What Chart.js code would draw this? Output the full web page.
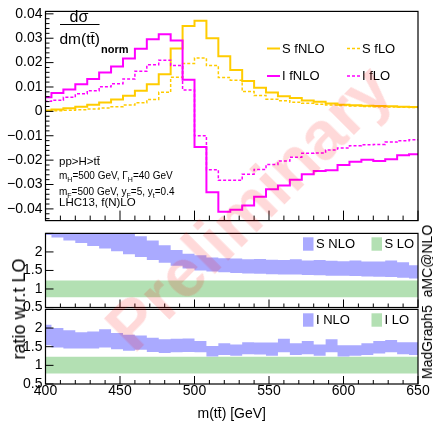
<!DOCTYPE html>
<html>
<head>
<meta charset="utf-8">
<title>m(tt̄) signal and interference</title>
<script src="https://cdn.jsdelivr.net/npm/chart.js@4.4.1/dist/chart.umd.min.js"></script>
<style>
  html, body { margin: 0; padding: 0; background: #fff; }
  #plot { position: relative; width: 433px; height: 424px; overflow: hidden; font-family: "Liberation Sans", Arial, sans-serif; color: #000; }
  #plot canvas { position: absolute; left: 0; }
  .rot { position: absolute; white-space: nowrap; line-height: 1; transform: translate(-50%, -50%) rotate(-90deg); }
  #ratioTitle { left: 19px; top: 309px; font-size: 18px; }
  #generator { left: 427px; top: 302px; font-size: 14px; }
  #prelim {
    position: absolute; left: 248px; top: 207px;
    transform: translate(-50%, -50%) rotate(-45deg);
    font-size: 68px; font-weight: bold; line-height: 1; white-space: nowrap;
    color: rgba(255, 0, 0, 0.15); pointer-events: none;
  }
</style>
</head>
<body>
<div id="plot">
  <canvas id="mainCanvas" width="433" height="232" style="top:0"></canvas>
  <canvas id="sCanvas" width="433" height="100" style="top:222px"></canvas>
  <canvas id="iCanvas" width="433" height="126" style="top:298px"></canvas>
  <div id="ratioTitle" class="rot">ratio w.r.t LO</div>
  <div id="generator" class="rot">MadGraph5_aMC@NLO</div>
  <div id="prelim">Preliminary</div>
</div>
<script>
const FONT = '"Liberation Sans", Arial, sans-serif';
Chart.defaults.font.family = FONT;
Chart.defaults.color = "#000";

/* ===========================
   DATA (8 GeV bins)
=========================== */

const binCenters = [400, 408, 416, 424, 432, 440, 448, 456, 464, 472, 480, 488, 496, 504, 512, 520,
                    528, 536, 544, 552, 560, 568, 576, 584, 592, 600, 608, 616, 624, 632, 640, 648];
const binWidth = 8;

// normalised distributions
const sFNLO = [0.0004, 0.0008, 0.0013, 0.0019, 0.0027, 0.0036, 0.0049, 0.0064, 0.0085, 0.0111, 0.0152, 0.0258,
               0.0350, 0.0372, 0.0300, 0.0226, 0.0170, 0.0125, 0.0097, 0.0077, 0.0062, 0.0055, 0.0045, 0.0039,
               0.0032, 0.0027, 0.0025, 0.0023, 0.0022, 0.0021, 0.0019, 0.0018];
const sFLO  = [0.0002, 0.0003, 0.0005, 0.0007, 0.0010, 0.0014, 0.0019, 0.0026, 0.0035, 0.0049, 0.0078, 0.0140,
               0.0196, 0.0219, 0.0188, 0.0139, 0.0128, 0.0081, 0.0065, 0.0050, 0.0044, 0.0037, 0.0033, 0.0029,
               0.0026, 0.0024, 0.0022, 0.0020, 0.0019, 0.0018, 0.0017, 0.0016];
const iFNLO = [0.0058, 0.0075, 0.0090, 0.0111, 0.0133, 0.0159, 0.0184, 0.0217, 0.0257, 0.0296, 0.0316, 0.0291,
               0.0130, -0.0146, -0.0332, -0.0412, -0.0403, -0.0386, -0.0350, -0.0319, -0.0304, -0.0280, -0.0258, -0.0245,
               -0.0241, -0.0220, -0.0207, -0.0198, -0.0204, -0.0196, -0.0180, -0.0176];
const iFLO  = [0.0041, 0.0046, 0.0058, 0.0072, 0.0085, 0.0101, 0.0113, 0.0133, 0.0165, 0.0191, 0.0210, 0.0188,
               0.0088, -0.0100, -0.0239, -0.0283, -0.0283, -0.0258, -0.0238, -0.0218, -0.0204, -0.0188, -0.0172, -0.0171,
               -0.0158, -0.0150, -0.0141, -0.0137, -0.0136, -0.0126, -0.0120, -0.0116];

// NLO / LO ratio bands
const sNloLow  = [2.46, 2.39, 2.31, 2.24, 2.16, 2.09, 2.02, 1.94, 1.86, 1.78, 1.71, 1.63, 1.55, 1.50, 1.47, 1.45,
                  1.43, 1.42, 1.41, 1.40, 1.39, 1.39, 1.38, 1.37, 1.36, 1.36, 1.35, 1.34, 1.33, 1.32, 1.30, 1.28];
const sNloHigh = [2.95, 2.90, 2.84, 2.77, 2.70, 2.63, 2.56, 2.49, 2.42, 2.31, 2.18, 2.05, 1.95, 1.91, 1.85, 1.83,
                  1.82, 1.80, 1.81, 1.79, 1.78, 1.80, 1.77, 1.78, 1.76, 1.75, 1.77, 1.74, 1.74, 1.77, 1.72, 1.64];
const iNloLow  = [1.54, 1.48, 1.45, 1.45, 1.45, 1.48, 1.43, 1.39, 1.42, 1.36, 1.33, 1.35, 1.36, 1.35, 1.24, 1.28,
                  1.26, 1.30, 1.29, 1.26, 1.35, 1.28, 1.30, 1.26, 1.35, 1.24, 1.26, 1.28, 1.32, 1.35, 1.30, 1.28];
const iNloHigh = [2.09, 2.00, 1.94, 1.89, 1.91, 1.97, 1.87, 1.82, 1.80, 1.74, 1.70, 1.71, 1.72, 1.65, 1.52, 1.59,
                  1.56, 1.62, 1.61, 1.61, 1.71, 1.59, 1.65, 1.56, 1.70, 1.54, 1.54, 1.59, 1.65, 1.68, 1.62, 1.62];
const loBand = [0.78, 1.23];

const xTicks = [400, 450, 500, 550, 600, 650];

const YELLOW = "#FFCC00";
const MAGENTA = "#FF00FF";
const BLUE = "#AAAAFF";
const GREEN = "#B3E0B3";

/* ===========================
   HELPERS
=========================== */

// left bin edges plus the closing right edge, drawn as a step line
function stepPoints(values) {
    const pts = values.map((v, i) => ({ x: binCenters[i] - binWidth / 2, y: v }));
    pts.push({ x: binCenters[binCenters.length - 1] + binWidth / 2, y: values[values.length - 1] });
    return pts;
}

function flatPoints(v) {
    return [
        { x: binCenters[0] - binWidth / 2, y: v },
        { x: binCenters[binCenters.length - 1] + binWidth / 2, y: v }
    ];
}

function histLine(values, color, dashed) {
    return {
        data: stepPoints(values),
        stepped: true,
        borderColor: color,
        borderWidth: dashed ? 1.5 : 2,
        borderDash: dashed ? [3, 2] : [],
        pointRadius: 0,
        fill: false,
        clip: 0
    };
}

function bandEdge(points, color, fill) {
    return {
        data: points,
        stepped: true,
        borderWidth: 0,
        borderColor: "rgba(0,0,0,0)",
        backgroundColor: color,
        pointRadius: 0,
        fill: fill,
        clip: 0
    };
}

function yAxis(min, max, step, fmt) {
    return {
        min, max,
        afterFit: s => { s.width = 45.5; },
        grid: { display: false, drawTicks: false },
        border: { display: false },
        ticks: { stepSize: step, includeBounds: false, autoSkip: false, padding: 3, font: { size: 14 }, callback: fmt }
    };
}

/* ===========================
   PLUGINS
=========================== */

// closed frame with ROOT-style inward ticks
const frameTicks = {
    id: "frameTicks",
    afterDatasetsDraw(chart, args, o) {
        const { ctx, chartArea: a, scales: { x, y } } = chart;
        ctx.save();
        ctx.strokeStyle = "#000";
        ctx.lineWidth = 1;
        ctx.beginPath();
        for (let v = 400; v <= 650; v += 10) {
            const px = x.getPixelForValue(v);
            const len = v % 50 === 0 ? o.xMajor : o.xMinor;
            ctx.moveTo(px, a.bottom);
            ctx.lineTo(px, a.bottom - len);
        }
        const k0 = Math.ceil(y.min / o.yMinorStep - 1e-9);
        const k1 = Math.floor(y.max / o.yMinorStep + 1e-9);
        for (let k = k0; k <= k1; k++) {
            const v = k * o.yMinorStep;
            const r = v / o.yMajorStep;
            const len = Math.abs(r - Math.round(r)) < 1e-6 ? o.yMajor : o.yMinor;
            const py = y.getPixelForValue(v);
            ctx.moveTo(a.left, py);
            ctx.lineTo(a.left + len, py);
        }
        ctx.stroke();
        ctx.lineWidth = 1.2;
        ctx.strokeRect(a.left, a.top, a.right - a.left, a.bottom - a.top);
        ctx.restore();
    }
};

// text runs with subscripts, e.g. m_H
function drawRuns(ctx, x, y, runs, size) {
    runs.forEach(([text, sub]) => {
        ctx.font = (sub ? size * 0.7 : size) + "px " + FONT;
        ctx.fillText(text, x, sub ? y + size * 0.3 : y);
        x += ctx.measureText(text).width;
    });
}

const mainText = {
    id: "mainText",
    afterDraw(chart) {
        const ctx = chart.ctx;
        ctx.save();
        ctx.fillStyle = "#000";
        ctx.strokeStyle = "#000";

        // d sigma / dm(tt) label
        ctx.textBaseline = "alphabetic";
        ctx.textAlign = "center";
        ctx.font = "16px " + FONT;
        ctx.fillText("dσ", 79, 22);
        ctx.lineWidth = 1;
        ctx.beginPath();
        ctx.moveTo(60, 24.5);
        ctx.lineTo(99.5, 24.5);
        ctx.stroke();
        ctx.textAlign = "left";
        ctx.font = "15.5px " + FONT;
        ctx.fillText("dm(tt̄)", 59.5, 43.5);
        ctx.font = "bold 11px " + FONT;
        ctx.fillText("norm", 101, 53);

        // process info
        ctx.font = "11.5px " + FONT;
        ctx.fillText("pp>H>tt̄", 59, 165);
        drawRuns(ctx, 59, 178.5, [["m"], ["H", 1], ["=500 GeV, Γ"], ["H", 1], ["=40 GeV"]], 10);
        drawRuns(ctx, 59, 195, [["m"], ["F", 1], ["=500 GeV, y"], ["F", 1], ["=5, y"], ["t", 1], ["=0.4"]], 10);
        ctx.font = "11.5px " + FONT;
        ctx.fillText("LHC13, f(N)LO", 59, 206);

        // legend
        const entries = [
            ["S fNLO", YELLOW, false, 267, 48.5],
            ["S fLO", YELLOW, true, 347, 48.5],
            ["I fNLO", MAGENTA, false, 267, 76],
            ["I fLO", MAGENTA, true, 347, 76]
        ];
        ctx.textBaseline = "middle";
        ctx.font = "13px " + FONT;
        entries.forEach(([label, color, dashed, x, y]) => {
            ctx.strokeStyle = color;
            ctx.lineWidth = dashed ? 1.5 : 2;
            ctx.setLineDash(dashed ? [3, 2] : []);
            ctx.beginPath();
            ctx.moveTo(x, y);
            ctx.lineTo(x + 13, y);
            ctx.stroke();
            ctx.fillText(label, x + 15, y + 0.5);
        });
        ctx.restore();
    }
};

// filled-box legend of the ratio panels
const bandLegend = {
    id: "bandLegend",
    afterDraw(chart, args, o) {
        const ctx = chart.ctx;
        const y = o.y - chart.canvas.offsetTop;
        ctx.save();
        ctx.font = "13px " + FONT;
        ctx.textBaseline = "middle";
        o.items.forEach(([label, color, x]) => {
            ctx.fillStyle = color;
            ctx.fillRect(x, y - 6.7, 10.5, 13.4);
            ctx.fillStyle = "#000";
            ctx.fillText(label, x + 13, y + 0.5);
        });
        ctx.restore();
    }
};

/* ===========================
   MAIN PANEL
=========================== */

const fmtMain = v => Math.abs(v) < 1e-9 ? "0" : (v < 0 ? "\u2212" : "") + Math.abs(v).toFixed(2);

new Chart(document.getElementById("mainCanvas"), {
    type: "line",
    data: {
        datasets: [
            histLine(iFNLO, MAGENTA, false),
            histLine(iFLO, MAGENTA, true),
            histLine(sFNLO, YELLOW, false),
            histLine(sFLO, YELLOW, true)
        ]
    },
    options: {
        responsive: false,
        animation: false,
        events: [],
        layout: { padding: { top: 8.3, right: 15, bottom: 1.5, left: 0 } },
        plugins: {
            legend: { display: false },
            tooltip: { enabled: false },
            frameTicks: { xMajor: 10, xMinor: 5, yMajor: 8, yMinor: 4, yMajorStep: 0.01, yMinorStep: 0.002 }
        },
        scales: {
            x: { type: "linear", min: 400, max: 650, display: false },
            y: yAxis(-0.0448, 0.041, 0.01, fmtMain)
        }
    },
    plugins: [frameTicks, mainText]
});

/* ===========================
   RATIO PANELS
=========================== */

const fmtRatio = v => v > 2.4 ? "" : String(v);

function ratioChart(canvasId, low, high, legendY, labels, showX) {
    const xScale = showX ? {
        type: "linear", min: 400, max: 650, position: "bottom",
        afterFit: s => { s.height = 40; },
        afterBuildTicks: s => { s.ticks = xTicks.map(v => ({ value: v })); },
        grid: { display: false, drawTicks: false },
        border: { display: false },
        ticks: { padding: -1, font: { size: 14 }, maxRotation: 0, autoSkip: false },
        title: { display: true, text: "m(tt̄) [GeV]", font: { size: 14 }, padding: { top: 0, bottom: 1 } }
    } : { type: "linear", min: 400, max: 650, display: false };

    return new Chart(document.getElementById(canvasId), {
        type: "line",
        data: {
            datasets: [
                bandEdge(stepPoints(low), BLUE, false),
                bandEdge(stepPoints(high), BLUE, "-1"),
                bandEdge(flatPoints(loBand[0]), GREEN, false),
                bandEdge(flatPoints(loBand[1]), GREEN, "-1")
            ]
        },
        options: {
            responsive: false,
            animation: false,
            events: [],
            layout: { padding: showX ? { top: 9.5, right: 15, bottom: 0, left: 0 }
                                     : { top: 8.5, right: 15, bottom: 14.5, left: 0 } },
            plugins: {
                legend: { display: false },
                tooltip: { enabled: false },
                filler: { propagate: false },
                frameTicks: { xMajor: 8, xMinor: 4, yMajor: 8, yMinor: 8, yMajorStep: 0.5, yMinorStep: 0.5 },
                bandLegend: {
                    y: legendY,
                    items: [[labels[0], BLUE, 303], [labels[1], GREEN, 371.5]]
                }
            },
            scales: {
                x: xScale,
                y: yAxis(0.5, 2.5, 0.5, fmtRatio)
            }
        },
        plugins: [frameTicks, bandLegend]
    });
}

ratioChart("sCanvas", sNloLow, sNloHigh, 244, ["S NLO", "S LO"], false);
ratioChart("iCanvas", iNloLow, iNloHigh, 320, ["I NLO", "I LO"], true);
</script>
</body>
</html>
